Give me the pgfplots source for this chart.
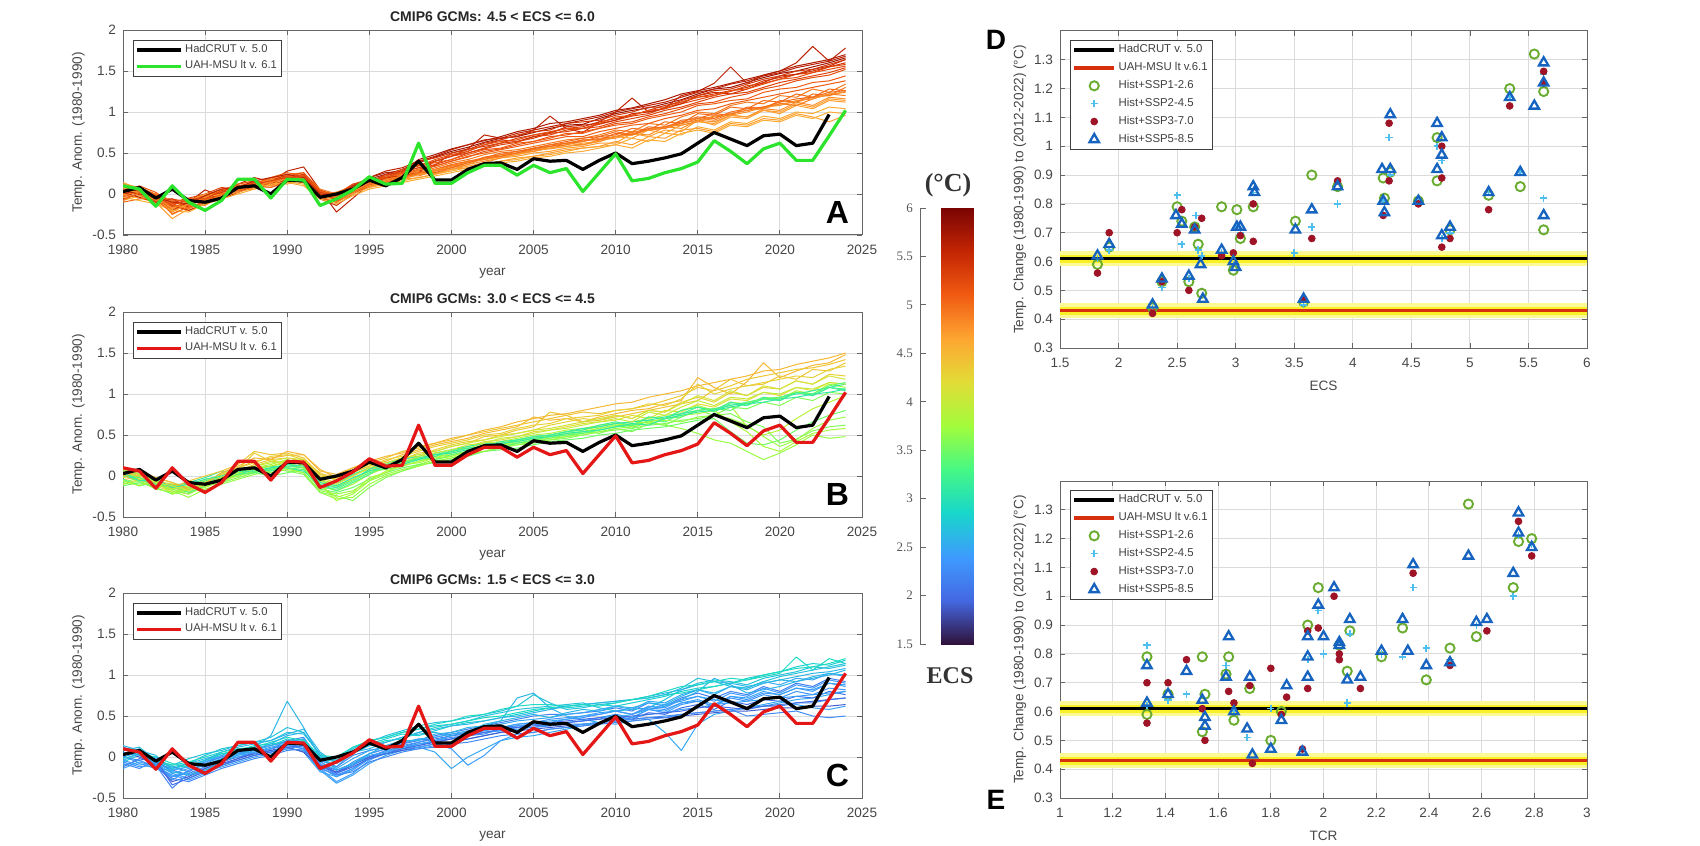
\documentclass[border=0pt]{standalone}
\usepackage{fontspec}
\setmainfont{Liberation Sans}
\newfontfamily\tnr{Liberation Serif}
\usepackage{pgfplots}
\usepackage{pgfplotstable}
\pgfplotsset{compat=1.18}

% turbo-like colour scale for ECS (1.5 ... 6 C)
\pgfplotsset{
  colormap={turbo}{rgb255=(48,18,59) rgb255=(68,104,226) rgb255=(62,155,254)
    rgb255=(24,214,203) rgb255=(70,248,132) rgb255=(162,252,60) rgb255=(225,221,55)
    rgb255=(254,166,50) rgb255=(240,91,18) rgb255=(196,37,3) rgb255=(122,4,3)},
}

\definecolor{obsgreen}{RGB}{45,228,45}
\definecolor{obsred}{RGB}{228,22,22}
\definecolor{sspA}{RGB}{105,172,48}
\definecolor{sspB}{RGB}{77,190,238}
\definecolor{sspC}{RGB}{158,20,38}
\definecolor{sspD}{RGB}{22,100,192}
\definecolor{bandlight}{RGB}{252,250,150}
\definecolor{bandyel}{RGB}{250,240,40}
\definecolor{uahline}{RGB}{214,48,14}

\pgfplotsset{
  matax/.style={
    scale only axis,
    axis line style={black!60, line width=0.5pt},
    every tick/.style={black!60, line width=0.4pt},
    tick align=inside,
    major tick length=2.5pt,
    grid=major,
    major grid style={black!14, line width=0.45pt},
    tick label style={font=\fontsize{6.8}{7.5}\selectfont, text=black!72},
    xticklabel style={yshift=-1.5pt},
    label style={font=\fontsize{6.8}{7.5}\selectfont, text=black!72},
    ylabel shift=-3pt,
    title style={font=\bfseries\fontsize{7}{8}\selectfont, text=black!85, yshift=-5.5pt},
    /pgf/number format/assume math mode=true,
    /pgf/number format/1000 sep={},
    legend cell align=left,
  },
  tsax/.style={
    matax, width=369.5pt, height=102.5pt,
    xmin=1980, xmax=2025, ymin=-0.5, ymax=2,
    xtick={1980,1985,...,2025}, ytick={-0.5,0,...,2},
    xlabel={year}, ylabel={Temp. Anom. (1980-1990)},
    colormap name=turbo,
    legend style={at={(0.0135,0.952)}, anchor=north west, draw=black!75,
      fill=white, font=\fontsize{5.6}{6.4}\selectfont, text=black!75,
      inner xsep=1pt, inner ysep=0.8pt, row sep=0pt, nodes={inner sep=1.3pt}},
    legend image code/.code={\draw[##1] (0pt,0pt) -- (22pt,0pt);},
  },
  scax/.style={
    matax, width=263.5pt, height=158.5pt,
    ymin=0.3, ymax=1.4, ytick={0.3,0.4,0.5,0.6,0.7,0.8,0.9,1,1.1,1.2,1.3},
    ylabel={Temp. Change (1980-1990) to (2012-2022) (°C)},
    legend style={at={(0.019,0.972)}, anchor=north west, draw=black!75,
      fill=white, font=\fontsize{5.7}{6.5}\selectfont, text=black!75,
      inner xsep=1pt, inner ysep=0.8pt, row sep=0.7pt, nodes={inner sep=1.3pt}},
    legend image code/.code={\draw[mark repeat=2, mark phase=2, ##1]
      plot coordinates {(0pt,0pt) (10pt,0pt) (20pt,0pt)};},
  },
  modelrun/.style={forget plot, line width=0.5pt, line join=round},
  obsline/.style={line width=1.6pt, line join=round},
  bandwide/.style={forget plot, bandlight, line width=7.6pt, line cap=butt},
  bandnarrow/.style={forget plot, bandyel, line width=4pt, line cap=butt},
  mkA/.style={only marks, mark=o, mark size=2.3pt, sspA, mark options={line width=0.95pt}},
  mkB/.style={only marks, mark=+, mark size=1.8pt, sspB, mark options={line width=0.8pt}},
  mkC/.style={only marks, mark=*, mark size=1.7pt, sspC, mark options={draw=sspC, fill=sspC}},
  mkD/.style={only marks, mark=triangle, mark size=2.7pt, sspD, mark options={line width=1.15pt}},
}

% observations (anomalies w.r.t. 1980-1990)
\pgfplotstableread{
year had uah
1980 0.03 0.10
1981 0.08 0.06
1982 -0.05 -0.15
1983 0.06 0.10
1984 -0.08 -0.10
1985 -0.10 -0.20
1986 -0.05 -0.08
1987 0.08 0.18
1988 0.10 0.18
1989 0.00 -0.05
1990 0.17 0.18
1991 0.16 0.17
1992 -0.04 -0.14
1993 0.00 -0.06
1994 0.06 0.05
1995 0.17 0.21
1996 0.10 0.12
1997 0.20 0.13
1998 0.40 0.62
1999 0.17 0.13
2000 0.17 0.13
2001 0.30 0.26
2002 0.37 0.35
2003 0.38 0.35
2004 0.30 0.23
2005 0.43 0.35
2006 0.40 0.26
2007 0.41 0.31
2008 0.30 0.03
2009 0.41 0.26
2010 0.50 0.49
2011 0.37 0.16
2012 0.40 0.19
2013 0.44 0.26
2014 0.49 0.31
2015 0.62 0.39
2016 0.75 0.65
2017 0.67 0.52
2018 0.59 0.37
2019 0.71 0.55
2020 0.73 0.62
2021 0.59 0.41
2022 0.62 0.41
2023 0.97 0.71
2024 nan 1.02
}\obs

% model runs, one run per row, 1980 ... 2024
\pgfplotstableread[header=false]{
0.05 0.02 -0.05 -0.12 -0.08  -0.02 0.04 0.10 0.12 0.18  0.22 0.20 -0.02 -0.05 0.10  0.18 0.24 0.30 0.38 0.45  0.52 0.57 0.63 0.68 0.70  0.75 0.80 0.84 0.85 0.92  0.98 1.02 1.05 1.10 1.15  1.22 1.28 1.30 1.36 1.42  1.47 1.50 1.55 1.60 1.66
0.10 -0.02 -0.08 -0.20 -0.10  0.05 -0.03 0.12 0.20 0.15  0.28 0.33 0.05 -0.22 -0.05  0.12 0.20 0.18 0.30 0.35  0.50 0.55 0.72 0.68 0.70  0.78 0.95 0.80 0.75 0.88  1.00 1.17 1.00 1.05 1.20  1.25 1.35 1.55 1.35 1.45  1.50 1.60 1.80 1.62 1.78
-0.02 0.05 0.00 -0.15 -0.12  -0.05 0.02 0.06 0.15 0.14  0.20 0.15 0.00 0.02 0.08  0.15 0.22 0.28 0.35 0.40  0.46 0.55 0.58 0.62 0.68  0.72 0.75 0.80 0.82 0.88  0.92 0.96 1.02 1.08 1.12  1.18 1.22 1.26 1.30 1.38  1.42 1.46 1.50 1.55 1.60
0.08 0.00 -0.04 -0.10 -0.05  0.00 0.08 0.05 0.12 0.20  0.18 0.22 0.05 -0.02 0.05  0.12 0.18 0.25 0.30 0.36  0.42 0.50 0.55 0.60 0.63  0.70 0.72 0.78 0.80 0.85  0.90 0.95 0.98 1.05 1.10  1.15 1.20 1.25 1.32 1.35  1.40 1.46 1.48 1.55 1.58
0.00 0.06 -0.02 -0.08 -0.14  -0.06 0.00 0.08 0.10 0.16  0.24 0.18 -0.05 -0.10 0.08  0.20 0.26 0.28 0.42 0.48  0.55 0.60 0.65 0.70 0.76  0.80 0.86 0.88 0.92 0.96  1.02 1.05 1.10 1.15 1.22  1.26 1.30 1.35 1.40 1.45  1.50 1.56 1.60 1.64 1.70
0.04 0.02 -0.06 -0.06 -0.10  -0.04 0.04 0.10 0.08 0.15  0.20 0.24 0.02 0.00 0.12  0.15 0.20 0.24 0.28 0.34  0.40 0.45 0.52 0.55 0.60  0.64 0.70 0.72 0.76 0.80  0.86 0.88 0.94 0.98 1.04  1.10 1.12 1.18 1.22 1.28  1.32 1.38 1.42 1.45 1.52
-0.05 0.00 -0.08 -0.18 -0.12  -0.08 0.00 0.05 0.08 0.12  0.16 0.20 0.02 -0.04 0.05  0.12 0.15 0.20 0.25 0.30  0.35 0.38 0.45 0.48 0.52  0.55 0.60 0.62 0.64 0.70  0.76 0.72 0.82 0.80 0.90  0.92 0.98 0.96 1.06 1.04  1.14 1.12 1.22 1.20 1.30
0.10 0.04 0.00 -0.25 -0.15  -0.05 0.05 0.08 0.14 0.10  0.18 0.15 -0.02 0.02 0.10  0.14 0.18 0.22 0.22 0.28  0.32 0.40 0.42 0.46 0.50  0.52 0.56 0.60 0.66 0.66  0.70 0.75 0.78 0.82 0.86  0.90 0.95 0.98 1.02 1.06  1.10 1.12 1.18 1.20 1.25
0.00 -0.05 -0.10 -0.30 -0.18  -0.10 -0.02 0.02 0.10 0.15  0.12 0.18 0.00 -0.08 0.02  0.10 0.14 0.18 0.24 0.26  0.30 0.34 0.38 0.44 0.46  0.50 0.52 0.56 0.58 0.62  0.62 0.74 0.70 0.78 0.76  0.90 0.84 0.94 0.92 1.02  0.98 1.08 1.04 1.14 1.12
0.06 0.02 -0.04 -0.12 -0.20  -0.12 -0.04 0.04 0.06 0.12  0.20 0.14 -0.04 -0.06 0.04  0.08 0.15 0.22 0.28 0.25  0.30 0.36 0.40 0.44 0.48  0.54 0.55 0.58 0.60 0.66  0.68 0.74 0.72 0.82 0.80  0.90 0.88 0.96 0.94 1.04  1.02 1.12 1.08 1.18 1.16
-0.08 -0.02 -0.12 -0.16 -0.10  -0.02 0.02 0.06 0.12 0.18  0.15 0.12 -0.06 -0.02 0.06  0.10 0.12 0.16 0.20 0.24  0.28 0.32 0.36 0.40 0.42  0.46 0.48 0.52 0.56 0.58  0.60 0.68 0.64 0.74 0.72  0.82 0.78 0.88 0.86 0.95  0.92 1.00 0.98 1.06 1.04
0.12 0.08 0.00 -0.08 -0.16  -0.10 0.00 0.10 0.14 0.18  0.24 0.26 0.06 0.00 0.10  0.16 0.20 0.24 0.26 0.32  0.38 0.42 0.48 0.52 0.54  0.58 0.62 0.66 0.68 0.72  0.78 0.76 0.86 0.84 0.94  1.00 0.98 1.08 1.12 1.10  1.20 1.18 1.28 1.24 1.34
-0.04 0.04 -0.02 -0.10 -0.06  -0.08 0.06 0.04 0.08 0.16  0.22 0.18 0.00 -0.04 0.06  0.14 0.18 0.26 0.32 0.34  0.40 0.46 0.50 0.54 0.58  0.62 0.66 0.70 0.70 0.76  0.80 0.84 0.86 0.92 0.96  1.02 1.04 1.10 1.14 1.18  1.22 1.26 1.30 1.34 1.38
0.02 -0.04 -0.10 -0.14 -0.20  -0.12 -0.06 0.02 0.10 0.14  0.20 0.16 -0.06 -0.14 0.00  0.10 0.20 0.22 0.26 0.40  0.46 0.52 0.60 0.66 0.64  0.70 0.74 0.82 0.84 0.86  0.90 0.98 1.00 1.04 1.10  1.20 1.24 1.22 1.28 1.36  1.44 1.46 1.52 1.56 1.64
0.14 0.06 -0.02 -0.18 -0.08  0.00 0.04 0.12 0.16 0.14  0.20 0.22 0.02 -0.02 0.08  0.14 0.16 0.20 0.26 0.28  0.34 0.38 0.42 0.45 0.48  0.52 0.56 0.58 0.62 0.64  0.70 0.68 0.78 0.74 0.84  0.88 0.86 0.96 0.94 1.02  1.00 1.10 1.06 1.16 1.14
-0.10 -0.06 -0.04 -0.20 -0.14  -0.06 -0.02 0.06 0.10 0.08  0.14 0.18 0.00 -0.06 0.02  0.10 0.16 0.22 0.24 0.30  0.36 0.40 0.44 0.50 0.52  0.56 0.60 0.64 0.68 0.70  0.72 0.80 0.78 0.88 0.86  0.98 0.96 1.06 1.04 1.14  1.12 1.22 1.18 1.28 1.26
0.02 0.08 -0.02 -0.16 -0.10  -0.04 0.02 0.12 0.16 0.12  0.22 0.26 0.04 -0.08 0.06  0.16 0.22 0.30 0.34 0.42  0.48 0.52 0.60 0.64 0.66  0.72 0.76 0.80 0.80 0.86  0.94 0.96 1.02 1.04 1.12  1.18 1.20 1.26 1.28 1.34  1.40 1.42 1.48 1.52 1.56
-0.06 0.00 -0.10 -0.06 -0.16  -0.10 0.02 0.06 0.14 0.10  0.18 0.24 0.00 -0.06 0.10  0.14 0.24 0.26 0.40 0.44  0.50 0.54 0.62 0.66 0.72  0.76 0.78 0.86 0.88 0.90  0.96 1.00 1.06 1.06 1.14  1.20 1.26 1.28 1.34 1.40  1.44 1.50 1.52 1.58 1.64
0.08 0.00 -0.06 -0.22 -0.12  -0.04 0.00 0.08 0.12 0.10  0.16 0.18 -0.04 -0.10 0.00  0.08 0.12 0.18 0.20 0.24  0.30 0.32 0.36 0.40 0.44  0.46 0.50 0.54 0.56 0.58  0.64 0.60 0.70 0.68 0.78  0.80 0.76 0.86 0.84 0.92  0.90 0.98 0.94 0.88 0.96
-0.02 0.04 -0.06 -0.14 -0.18  -0.08 -0.04 0.06 0.10 0.14  0.20 0.16 0.00 -0.02 0.06  0.12 0.18 0.22 0.30 0.28  0.34 0.40 0.42 0.48 0.50  0.54 0.58 0.60 0.64 0.68  0.70 0.76 0.78 0.80 0.86  0.92 0.90 0.98 1.02 1.04  1.10 1.08 1.16 1.22 1.20
0.06 -0.02 -0.04 -0.10 -0.12  -0.14 -0.02 0.02 0.08 0.16  0.18 0.20 -0.02 -0.04 0.04  0.10 0.16 0.18 0.24 0.30  0.32 0.36 0.44 0.46 0.50  0.52 0.58 0.62 0.60 0.64  0.70 0.72 0.78 0.82 0.84  0.88 0.94 0.96 1.00 1.06  1.08 1.14 1.16 1.22 1.24
0.00 0.10 0.02 -0.12 -0.08  -0.02 0.06 0.10 0.12 0.20  0.26 0.22 0.04 -0.02 0.08  0.16 0.20 0.26 0.36 0.38  0.42 0.48 0.54 0.56 0.62  0.64 0.68 0.74 0.74 0.80  0.84 0.86 0.92 0.96 1.00  1.08 1.10 1.14 1.16 1.24  1.28 1.30 1.36 1.38 1.44
0.04 0.00 -0.04 -0.10 -0.12  -0.02 0.06 0.08 0.16 0.20  0.24 0.20 0.00 -0.02 0.10  0.20 0.28 0.32 0.40 0.46  0.54 0.60 0.66 0.68 0.74  0.78 0.82 0.86 0.90 0.94  1.00 1.04 1.08 1.12 1.18  1.24 1.28 1.34 1.38 1.44  1.48 1.54 1.58 1.62 1.68
-0.04 -0.08 -0.12 -0.20 -0.22  -0.12 -0.06 0.00 0.06 0.12  0.14 0.10 -0.06 -0.12 -0.02  0.06 0.10 0.14 0.18 0.22  0.26 0.30 0.34 0.38 0.40  0.44 0.46 0.50 0.52 0.56  0.60 0.56 0.66 0.64 0.74  0.78 0.74 0.84 0.82 0.90  0.88 0.96 0.92 1.00 0.98
0.10 0.04 -0.02 -0.14 -0.06  -0.06 0.04 0.08 0.12 0.16  0.20 0.22 0.02 -0.02 0.12  0.18 0.20 0.28 0.32 0.40  0.46 0.50 0.56 0.62 0.64  0.68 0.74 0.76 0.80 0.82  0.88 0.92 0.96 1.02 1.06  1.12 1.18 1.22 1.24 1.30  1.36 1.40 1.44 1.48 1.54
-0.08 0.02 -0.06 -0.24 -0.16  -0.10 0.00 0.04 0.10 0.08  0.16 0.14 -0.04 -0.10 0.02  0.12 0.14 0.20 0.26 0.26  0.32 0.38 0.44 0.46 0.50  0.56 0.58 0.62 0.66 0.66  0.74 0.72 0.80 0.82 0.88  0.94 0.92 1.00 1.04 1.06  1.12 1.16 1.18 1.24 1.26
}\rawA
\pgfplotstabletranspose\runsA\rawA

\pgfplotstableread[header=false]{
0.00 -0.05 -0.10 -0.18 -0.22  -0.12 0.00 0.10 0.18 0.22  0.25 0.26 0.08 -0.02 0.05  0.12 0.18 0.26 0.32 0.38  0.42 0.46 0.52 0.56 0.60  0.72 0.68 0.70 0.66 0.72  0.76 0.80 0.82 0.88 0.92  1.20 1.08 1.00 1.15 1.38  1.20 1.28 1.35 1.38 1.48
-0.05 0.00 -0.06 -0.15 -0.18  -0.10 -0.04 0.06 0.14 0.20  0.22 0.18 0.04 -0.06 0.00  0.10 0.14 0.20 0.28 0.30  0.36 0.40 0.48 0.50 0.56  0.60 0.78 0.74 0.66 0.68  0.72 0.76 0.80 0.84 0.88  0.92 1.05 1.18 1.10 1.12  1.22 1.18 1.30 1.28 1.38
0.04 -0.02 -0.08 -0.12 -0.10  -0.06 0.02 0.08 0.28 0.18  0.16 0.20 0.00 -0.04 0.06  0.14 0.16 0.22 0.24 0.32  0.38 0.42 0.44 0.50 0.52  0.56 0.62 0.66 0.70 0.68  0.74 0.70 0.80 0.78 0.90  0.96 0.90 1.02 0.98 1.08  1.06 1.16 1.12 1.24 1.22
-0.10 -0.04 -0.12 -0.20 -0.16  -0.06 0.00 0.04 0.10 0.12  0.18 0.14 -0.02 -0.08 0.02  0.08 0.12 0.18 0.22 0.26  0.30 0.36 0.42 0.44 0.48  0.54 0.56 0.60 0.64 0.66  0.68 0.74 0.70 0.80 0.78  0.88 0.84 0.94 0.92 1.02  0.98 1.08 1.04 1.14 1.12
0.02 -0.06 -0.14 -0.10 -0.20  -0.14 -0.06 0.00 0.06 0.08  0.12 0.10 -0.12 -0.18 -0.10  0.02 0.10 0.14 0.22 0.26  0.30 0.34 0.40 0.42 0.46  0.50 0.52 0.56 0.58 0.62  0.64 0.66 0.70 0.74 0.76  0.80 0.82 0.86 0.60 0.50  0.56 0.70 0.82 0.90 0.98
-0.06 -0.10 -0.08 -0.18 -0.26  -0.16 -0.10 -0.04 0.02 0.06  0.10 0.04 -0.20 -0.28 -0.26  -0.10 0.00 0.06 0.14 0.20  0.24 0.30 0.34 0.38 0.40  0.42 0.46 0.48 0.52 0.56  0.60 0.62 0.66 0.62 0.58  0.52 0.44 0.40 0.30 0.20  0.28 0.38 0.50 0.46 0.48
0.06 0.00 -0.04 -0.14 -0.12  -0.08 0.04 0.08 0.06 0.10  0.14 0.16 -0.08 -0.14 -0.04  0.06 0.08 0.12 0.18 0.24  0.26 0.30 0.36 0.34 0.40  0.44 0.46 0.50 0.54 0.52  0.58 0.54 0.64 0.62 0.72  0.80 0.74 0.84 0.82 0.90  0.86 0.96 0.92 1.02 1.00
-0.12 -0.08 -0.14 -0.22 -0.18  -0.10 -0.04 0.02 0.04 0.00  0.04 0.08 -0.16 -0.20 -0.14  -0.04 0.04 0.10 0.14 0.16  0.20 0.24 0.30 0.32 0.34  0.38 0.42 0.44 0.46 0.50  0.52 0.56 0.58 0.60 0.64  0.68 0.70 0.54 0.40 0.38  0.44 0.56 0.66 0.74 0.80
0.00 0.04 -0.02 -0.08 -0.14  -0.18 -0.08 0.02 0.10 0.14  0.20 0.12 -0.10 -0.30 -0.22  -0.06 0.06 0.12 0.18 0.22  0.28 0.32 0.38 0.40 0.44  0.46 0.50 0.54 0.56 0.60  0.64 0.60 0.72 0.70 0.80  0.86 0.80 0.90 0.88 0.96  0.94 1.04 1.00 1.12 1.08
-0.04 -0.12 -0.08 -0.16 -0.14  -0.06 -0.02 0.06 0.04 0.08  0.12 0.10 -0.10 -0.18 -0.08  0.02 0.14 0.18 0.20 0.24  0.30 0.34 0.36 0.40 0.42  0.46 0.48 0.52 0.54 0.58  0.62 0.58 0.68 0.66 0.76  0.84 0.78 0.88 0.86 0.94  0.92 1.02 0.98 1.08 1.06
0.08 0.02 -0.06 -0.12 -0.08  -0.02 0.06 0.02 0.08 0.12  0.10 0.06 -0.12 -0.14 -0.04  0.08 0.16 0.20 0.24 0.28  0.32 0.36 0.40 0.38 0.44  0.48 0.50 0.54 0.58 0.60  0.64 0.66 0.68 0.72 0.76  0.80 0.82 0.86 0.90 0.94  0.96 1.00 1.04 1.08 1.12
0.04 0.00 -0.04 -0.14 -0.06  0.00 0.06 0.14 0.30 0.26  0.28 0.22 0.02 0.00 0.10  0.16 0.22 0.30 0.34 0.40  0.44 0.50 0.54 0.58 0.62  0.66 0.70 0.74 0.78 0.76  0.80 0.82 0.86 0.92 0.98  1.08 1.04 1.10 1.18 1.22  1.26 1.30 1.32 1.36 1.42
-0.08 -0.02 -0.10 -0.16 -0.22  -0.12 -0.08 -0.02 0.04 0.10  0.06 0.02 -0.20 -0.24 -0.30  -0.14 -0.02 0.06 0.12 0.18  0.22 0.26 0.30 0.34 0.38  0.42 0.44 0.46 0.50 0.54  0.56 0.58 0.62 0.64 0.68  0.70 0.74 0.76 0.66 0.60  0.40 0.45 0.55 0.60 0.62
0.00 -0.04 -0.12 -0.10 -0.16  -0.08 -0.02 0.04 0.10 0.06  0.14 0.10 -0.06 -0.10 0.02  0.10 0.12 0.16 0.22 0.26  0.30 0.34 0.36 0.42 0.44  0.48 0.50 0.54 0.56 0.62  0.66 0.62 0.72 0.70 0.80  0.84 0.80 0.90 0.86 0.96  0.92 1.02 0.98 1.08 1.04
-0.02 0.02 -0.06 -0.10 -0.14  -0.08 0.02 0.10 0.16 0.24  0.26 0.20 0.02 -0.04 0.04  0.12 0.20 0.24 0.30 0.36  0.40 0.44 0.50 0.52 0.58  0.62 0.64 0.70 0.72 0.74  0.80 0.82 0.88 0.86 0.94  1.12 1.00 1.06 1.10 1.14  1.18 1.22 1.20 1.30 1.34
0.06 -0.04 -0.10 -0.16 -0.12  -0.04 0.00 0.06 0.12 0.16  0.18 0.16 -0.06 -0.12 -0.04  0.06 0.12 0.16 0.24 0.28  0.32 0.38 0.40 0.46 0.48  0.52 0.56 0.58 0.62 0.66  0.70 0.66 0.78 0.74 0.84  0.92 0.86 0.96 0.94 1.02  1.00 1.08 1.06 1.14 1.12
-0.10 -0.06 -0.16 -0.20 -0.14  -0.10 -0.02 0.00 0.06 0.04  0.08 0.04 -0.18 -0.22 -0.18  -0.06 0.02 0.08 0.12 0.18  0.22 0.28 0.30 0.36 0.38  0.40 0.44 0.48 0.50 0.54  0.58 0.60 0.64 0.68 0.66  0.72 0.74 0.70 0.62 0.48  0.36 0.44 0.58 0.68 0.72
0.02 -0.02 -0.10 -0.12 -0.20  -0.12 -0.04 0.02 0.04 0.10  0.10 0.08 -0.14 -0.16 -0.06  0.04 0.10 0.16 0.22 0.20  0.26 0.30 0.34 0.36 0.40  0.44 0.48 0.50 0.52 0.56  0.60 0.62 0.66 0.70 0.72  0.80 0.82 0.80 0.90 0.94  0.96 1.02 1.00 1.10 1.14
0.00 0.06 -0.02 -0.08 -0.16  -0.10 0.04 0.12 0.22 0.20  0.30 0.26 0.06 0.02 0.10  0.18 0.24 0.28 0.36 0.40  0.46 0.50 0.56 0.60 0.66  0.70 0.74 0.76 0.80 0.84  0.88 0.90 0.96 1.00 1.04  1.10 1.14 1.18 1.22 1.28  1.30 1.36 1.40 1.44 1.50
-0.06 -0.12 -0.06 -0.22 -0.16  -0.12 -0.06 0.04 0.08 0.12  0.16 0.10 -0.12 -0.26 -0.20  -0.02 0.04 0.14 0.16 0.22  0.24 0.30 0.34 0.38 0.42  0.46 0.48 0.52 0.54 0.58  0.62 0.64 0.66 0.70 0.74  0.76 0.80 0.66 0.54 0.36  0.30 0.42 0.52 0.56 0.58
0.04 -0.06 -0.04 -0.14 -0.10  -0.04 0.00 0.06 0.06 0.10  0.14 0.12 -0.08 -0.12 -0.02  0.06 0.12 0.14 0.20 0.26  0.28 0.32 0.36 0.40 0.42  0.46 0.48 0.52 0.54 0.56  0.60 0.64 0.62 0.70 0.74  0.78 0.80 0.84 0.88 0.90  0.94 0.96 1.00 1.02 1.06
0.08 0.02 -0.08 -0.12 -0.18  -0.10 -0.02 0.08 0.12 0.18  0.22 0.20 -0.04 -0.10 0.00  0.10 0.16 0.22 0.26 0.30  0.36 0.40 0.44 0.48 0.52  0.56 0.58 0.62 0.66 0.70  0.74 0.70 0.80 0.78 0.88  0.98 0.92 1.04 0.98 1.10  1.06 1.16 1.12 1.22 1.18
}\rawB
\pgfplotstabletranspose\runsB\rawB

\pgfplotstableread[header=false]{
0.04 0.10 -0.10 -0.38 -0.20  -0.12 -0.04 0.04 0.10 0.14  0.20 0.24 -0.05 -0.20 -0.10  0.04 0.10 0.16 0.20 0.26  0.30 0.34 0.38 0.42 0.46  0.50 0.52 0.52 0.54 0.56  0.60 0.56 0.66 0.62 0.72  0.78 0.72 0.80 0.76 0.86  0.80 0.90 0.86 0.96 0.92
-0.10 -0.04 0.00 -0.14 -0.08  -0.02 0.04 0.06 0.12 0.26  0.68 0.36 0.00 -0.12 0.06  0.10 0.18 0.24 0.28 0.30  0.26 0.30 0.40 0.44 0.72  0.78 0.60 0.50 0.46 0.42  0.48 0.52 0.58 0.62 0.70  0.80 0.96 0.88 0.78 0.82  0.86 0.92 0.96 1.00 1.06
0.12 0.06 -0.02 -0.20 -0.26  -0.16 -0.10 -0.02 0.06 0.10  0.16 0.12 -0.14 -0.30 -0.20  -0.04 0.06 0.10 0.16 0.18  0.22 0.28 0.30 0.32 0.36  0.40 0.38 0.42 0.44 0.48  0.52 0.48 0.58 0.54 0.64  0.68 0.62 0.74 0.70 0.78  0.76 0.84 0.80 0.90 0.86
-0.06 0.02 -0.08 -0.14 -0.10  -0.04 0.02 0.10 0.08 0.14  0.22 0.18 -0.02 -0.06 0.08  0.16 0.22 0.28 0.26 0.32  0.38 0.42 0.44 0.48 0.52  0.56 0.60 0.60 0.62 0.64  0.62 0.66 0.70 0.74 0.80  0.84 0.86 0.90 0.96 1.00  1.04 1.10 1.14 1.12 1.18
0.02 -0.08 -0.14 -0.24 -0.18  -0.08 0.00 0.04 0.02 0.08  0.12 0.06 -0.18 -0.24 -0.14  0.00 0.04 0.08 0.12 0.06  -0.14 0.00 0.10 0.20 0.24  0.26 0.30 0.34 0.38 0.42  0.40 0.44 0.46 0.30 0.08  0.40 0.52 0.56 0.60 0.62  0.66 0.70 0.72 0.76 0.80
-0.12 -0.02 -0.06 -0.16 -0.22  -0.14 -0.06 0.00 0.04 0.10  0.14 0.10 -0.10 -0.16 -0.08  0.00 0.08 0.12 0.18 0.22  0.26 0.28 0.32 0.36 0.38  0.40 0.42 0.44 0.46 0.48  0.50 0.46 0.54 0.52 0.60  0.64 0.58 0.68 0.64 0.70  0.68 0.74 0.72 0.80 0.76
0.08 0.12 -0.04 -0.10 -0.02  0.04 0.08 0.14 0.18 0.20  0.30 0.28 0.04 -0.06 0.10  0.20 0.24 0.30 0.34 0.38  0.40 0.44 0.50 0.54 0.58  0.60 0.62 0.64 0.66 0.60  0.56 0.58 0.60 0.70 0.82  0.90 0.94 0.92 0.88 0.96  1.00 1.04 1.10 1.08 1.12
-0.04 -0.10 -0.06 -0.28 -0.16  -0.10 -0.02 0.02 0.08 0.06  0.10 0.14 -0.08 -0.20 -0.06  0.04 0.10 0.14 0.18 0.24  0.28 0.30 0.34 0.36 0.40  0.42 0.46 0.48 0.50 0.52  0.56 0.52 0.60 0.58 0.66  0.68 0.62 0.72 0.68 0.76  0.72 0.80 0.76 0.84 0.82
0.10 0.04 0.00 -0.08 -0.12  -0.04 0.04 0.08 0.14 0.16  0.18 0.22 0.00 -0.04 0.08  0.14 0.20 0.22 0.30 0.36  0.40 0.44 0.48 0.50 0.54  0.58 0.60 0.62 0.64 0.66  0.68 0.70 0.72 0.76 0.78  0.82 0.86 0.90 0.94 0.98  1.02 1.22 1.06 1.20 1.14
0.00 0.06 -0.12 -0.18 -0.22  -0.18 -0.12 -0.06 0.00 0.04  0.10 0.08 -0.16 -0.32 -0.22  -0.08 0.02 0.08 0.10 0.14  0.18 0.22 0.26 0.30 0.34  0.36 0.40 0.42 0.44 0.46  0.52 0.48 0.58 0.56 0.66  0.70 0.64 0.74 0.72 0.80  0.76 0.84 0.82 0.90 0.88
0.06 0.00 -0.10 -0.30 -0.24  -0.14 -0.08 -0.02 0.04 0.08  0.12 0.06 -0.12 -0.18 -0.10  0.00 0.04 0.08 0.12 0.16  0.18 0.22 0.26 0.30 0.32  0.34 0.36 0.38 0.40 0.42  0.44 0.46 0.48 0.48 0.50  0.52 0.54 0.56 0.56 0.58  0.60 0.60 0.62 0.62 0.64
-0.08 -0.14 -0.04 -0.12 -0.18  -0.06 0.00 0.06 0.04 0.10  0.16 0.20 -0.04 -0.12 0.02  0.08 0.12 0.16 0.22 0.20  0.24 0.26 0.28 0.34 0.36  0.36 0.38 0.40 0.40 0.42  0.44 0.46 0.48 0.50 0.52  0.54 0.56 0.58 0.50 0.52  0.54 0.56 0.50 0.48 0.50
0.14 0.08 0.02 -0.16 -0.12  -0.04 0.06 0.12 0.16 0.20  0.28 0.34 0.06 -0.08 0.04  0.14 0.18 0.24 0.30 0.34  0.38 0.40 0.44 0.48 0.50  0.54 0.58 0.62 0.64 0.66  0.68 0.70 0.74 0.78 0.82  0.88 0.92 0.90 0.86 0.90  0.94 0.98 1.02 1.04 1.08
-0.14 -0.06 -0.12 -0.22 -0.28  -0.20 -0.10 -0.04 0.02 0.06  0.14 0.16 -0.12 -0.24 -0.16  -0.02 0.04 0.10 0.12 0.16  0.10 -0.10 0.02 0.20 0.28  0.30 0.34 0.36 0.40 0.42  0.46 0.48 0.52 0.54 0.58  0.60 0.64 0.66 0.68 0.70  0.72 0.74 0.76 0.78 0.80
0.06 0.02 -0.08 -0.20 -0.14  -0.10 -0.02 0.06 0.08 0.14  0.18 0.22 -0.02 -0.14 -0.02  0.08 0.12 0.18 0.22 0.24  0.28 0.32 0.36 0.40 0.44  0.46 0.48 0.52 0.54 0.58  0.62 0.58 0.68 0.66 0.76  0.82 0.76 0.86 0.84 0.92  0.88 0.96 0.94 1.02 0.98
-0.06 -0.12 -0.10 -0.24 -0.20  -0.12 -0.04 0.00 0.06 0.12  0.16 0.10 -0.10 -0.22 -0.14  -0.02 0.08 0.12 0.14 0.20  0.22 0.26 0.30 0.32 0.38  0.40 0.42 0.46 0.48 0.52  0.56 0.52 0.62 0.60 0.70  0.74 0.68 0.78 0.74 0.84  0.78 0.88 0.84 0.94 0.90
0.02 0.08 -0.06 -0.12 -0.08  0.02 0.10 0.14 0.18 0.24  0.36 0.30 0.02 -0.04 0.12  0.18 0.26 0.32 0.38 0.42  0.44 0.48 0.52 0.56 0.62  0.76 0.66 0.58 0.60 0.64  0.66 0.70 0.72 0.76 0.84  0.96 0.92 0.86 0.84 0.92  0.98 1.02 1.06 1.10 1.14
0.00 -0.04 -0.12 -0.26 -0.30  -0.22 -0.14 -0.08 -0.02 0.02  0.08 0.10 -0.14 -0.22 -0.18  -0.06 0.00 0.06 0.10 0.12  0.16 0.18 0.22 0.26 0.28  0.30 0.34 0.36 0.38 0.40  0.42 0.44 0.46 0.48 0.52  0.54 0.56 0.58 0.60 0.62  0.62 0.66 0.66 0.70 0.72
-0.02 0.04 -0.04 -0.10 -0.06  0.00 0.06 0.10 0.12 0.18  0.24 0.20 0.02 0.00 0.12  0.20 0.24 0.30 0.34 0.40  0.44 0.50 0.52 0.58 0.62  0.64 0.64 0.62 0.64 0.62  0.66 0.70 0.74 0.80 0.86  0.88 0.92 0.96 0.94 1.00  1.04 1.08 1.10 1.14 1.20
0.10 0.02 -0.06 -0.18 -0.22  -0.16 -0.06 0.02 0.10 0.16  0.26 0.30 0.02 -0.16 -0.08  0.04 0.14 0.20 0.20 0.28  0.30 0.36 0.38 0.44 0.48  0.52 0.48 0.54 0.58 0.56  0.62 0.60 0.66 0.64 0.74  0.82 0.78 0.86 0.82 0.90  0.94 0.92 0.98 1.02 1.00
-0.04 0.04 -0.08 -0.16 -0.12  -0.06 0.02 0.04 0.06 0.10  0.20 0.18 -0.06 -0.16 -0.10  0.02 0.06 0.12 0.16 0.20  0.26 0.30 0.32 0.36 0.40  0.42 0.44 0.46 0.50 0.54  0.56 0.60 0.58 0.64 0.68  0.74 0.70 0.66 0.60 0.64  0.68 0.64 0.60 0.58 0.62
0.04 0.08 -0.04 -0.34 -0.26  -0.18 -0.10 -0.04 0.02 0.06  0.12 0.14 -0.10 -0.20 -0.12  -0.02 0.04 0.10 0.14 0.18  0.22 0.26 0.30 0.34 0.36  0.38 0.40 0.42 0.44 0.46  0.48 0.50 0.52 0.54 0.56  0.60 0.62 0.60 0.58 0.62  0.64 0.66 0.68 0.70 0.72
}\rawC
\pgfplotstabletranspose\runsC\rawC

\begin{document}
\begin{tikzpicture}
\useasboundingbox (0pt,0pt) rectangle (850pt,-422.5pt);

% ---------------- A: 4.5 < ECS <= 6.0
\begin{axis}[tsax, at={(61.5pt,-117.5pt)}, anchor=south west,
  title={CMIP6 GCMs: 4.5 < ECS <= 6.0}]
\foreach \k/\v in {1/956,2/911,3/867,4/844,5/933,6/822,7/778,8/756,9/711,10/733,11/689,12/756,13/800,14/889,15/711,16/778,17/822,18/867,19/711,20/756,21/733,22/800,23/911,24/689,25/844,26/778}{
  \edef\temp{\noexpand\addplot[modelrun, color of colormap=\v] table[x expr=\noexpand\coordindex+1980, y index=\k] {\noexpand\runsA};}
  \temp
}
\addplot[obsline, black] table[x=year, y=had] {\obs};
\addlegendentry{HadCRUT v. 5.0}
\addplot[obsline, obsgreen] table[x=year, y=uah] {\obs};
\addlegendentry{UAH-MSU lt v. 6.1}
\node[anchor=south east, font=\bfseries\fontsize{16}{16}\selectfont] at (rel axis cs:0.992,0.02) {A};
\end{axis}

% ---------------- B: 3.0 < ECS <= 4.5
\begin{axis}[tsax, at={(61.5pt,-258.5pt)}, anchor=south west,
  title={CMIP6 GCMs: 3.0 < ECS <= 4.5}]
\foreach \k/\v in {1/667,2/644,3/622,4/600,5/533,6/489,7/467,8/444,9/511,10/400,11/356,12/644,13/467,14/378,15/622,16/556,17/489,18/422,19/667,20/511,21/356,22/578}{
  \edef\temp{\noexpand\addplot[modelrun, color of colormap=\v] table[x expr=\noexpand\coordindex+1980, y index=\k] {\noexpand\runsB};}
  \temp
}
\addplot[obsline, black] table[x=year, y=had] {\obs};
\addlegendentry{HadCRUT v. 5.0}
\addplot[obsline, obsred] table[x=year, y=uah] {\obs};
\addlegendentry{UAH-MSU lt v. 6.1}
\node[anchor=south east, font=\bfseries\fontsize{16}{16}\selectfont] at (rel axis cs:0.992,0.02) {B};
\end{axis}

% ---------------- C: 1.5 < ECS <= 3.0
\begin{axis}[tsax, at={(61.5pt,-399pt)}, anchor=south west,
  title={CMIP6 GCMs: 1.5 < ECS <= 3.0}]
\foreach \k/\v in {1/150,2/244,3/200,4/289,5/222,6/120,7/267,8/190,9/311,10/210,11/90,12/170,13/244,14/205,15/222,16/195,17/267,18/165,19/311,20/244,21/215,22/110}{
  \edef\temp{\noexpand\addplot[modelrun, color of colormap=\v] table[x expr=\noexpand\coordindex+1980, y index=\k] {\noexpand\runsC};}
  \temp
}
\addplot[obsline, black] table[x=year, y=had] {\obs};
\addlegendentry{HadCRUT v. 5.0}
\addplot[obsline, obsred] table[x=year, y=uah] {\obs};
\addlegendentry{UAH-MSU lt v. 6.1}
\node[anchor=south east, font=\bfseries\fontsize{16}{16}\selectfont] at (rel axis cs:0.992,0.02) {C};
\end{axis}

% ---------------- colour bar (ECS)
\begin{axis}[at={(460pt,-322pt)}, anchor=south west, scale only axis,
  width=26.5pt, height=218pt,
  xmin=0, xmax=1, ymin=1.5, ymax=6,
  axis x line=none, axis y line*=left,
  axis line style={black!60, line width=0.5pt},
  ytick={1.5,2,...,6}, tick align=inside, major tick length=3pt,
  every tick/.style={black!60, line width=0.5pt},
  yticklabel style={font=\tnr\fontsize{6.5}{7}\selectfont, text=black!65},
  /pgf/number format/assume math mode=true,
  colormap name=turbo, point meta min=1.5, point meta max=6]
\addplot[surf, shader=interp, mesh/rows=2, point meta=explicit]
  coordinates {(0.4,1.5) [1.5] (1,1.5) [1.5] (0.4,6) [6] (1,6) [6]};
\end{axis}
\node[font=\tnr\bfseries\fontsize{13}{13}\selectfont, text=black!80] at (474pt,-92.5pt) {(°C)};
\node[font=\tnr\bfseries\fontsize{12}{12}\selectfont, text=black!80] at (475pt,-338pt) {ECS};

% ---------------- D: change vs ECS
\begin{axis}[scax, at={(530pt,-174pt)}, anchor=south west,
  xmin=1.5, xmax=6, xtick={1.5,2,...,6}, xlabel={ECS}]
\addplot[bandwide] coordinates {(1.5,0.61) (6,0.61)};
\addplot[bandnarrow] coordinates {(1.5,0.61) (6,0.61)};
\addplot[black, line width=1.8pt, line cap=butt] coordinates {(1.5,0.61) (6,0.61)};
\addlegendentry{HadCRUT v. 5.0}
\addplot[bandwide] coordinates {(1.5,0.43) (6,0.43)};
\addplot[bandnarrow] coordinates {(1.5,0.43) (6,0.43)};
\addplot[uahline, line width=1.6pt, line cap=butt] coordinates {(1.5,0.43) (6,0.43)};
\addlegendentry{UAH-MSU lt v.6.1}
\addplot[mkA] coordinates {(1.82,0.59) (1.92,0.65) (2.29,0.44) (2.37,0.53) (2.50,0.79) (2.54,0.74) (2.60,0.53) (2.65,0.72) (2.68,0.66) (2.71,0.49) (2.88,0.79) (2.98,0.57) (3.01,0.78) (3.04,0.68) (3.15,0.79) (3.51,0.74) (3.58,0.46) (3.65,0.90) (3.87,0.86) (4.26,0.89) (4.27,0.82) (4.32,0.91) (4.56,0.81) (4.72,1.03) (4.72,0.88) (4.83,0.71) (5.16,0.83) (5.34,1.20) (5.43,0.86) (5.55,1.32) (5.63,1.19) (5.63,0.71)};
\addlegendentry{Hist+SSP1-2.6}
\addplot[mkB] coordinates {(1.82,0.61) (1.92,0.64) (2.29,0.44) (2.37,0.51) (2.50,0.83) (2.54,0.66) (2.60,0.54) (2.66,0.76) (2.68,0.64) (2.71,0.62) (2.88,0.63) (2.98,0.59) (3.01,0.72) (3.04,0.70) (3.15,0.84) (3.50,0.63) (3.58,0.45) (3.65,0.72) (3.87,0.80) (4.26,0.81) (4.31,1.03) (4.32,0.90) (4.56,0.81) (4.72,1.00) (4.76,0.95) (4.76,0.68) (4.83,0.70) (5.16,0.84) (5.34,1.17) (5.43,0.91) (5.63,1.25) (5.63,0.82)};
\addlegendentry{Hist+SSP2-4.5}
\addplot[mkC] coordinates {(1.82,0.56) (1.92,0.70) (2.29,0.42) (2.37,0.53) (2.50,0.70) (2.54,0.78) (2.60,0.50) (2.65,0.72) (2.71,0.75) (2.88,0.62) (2.98,0.63) (3.04,0.69) (3.15,0.80) (3.15,0.67) (3.58,0.47) (3.65,0.68) (3.87,0.88) (4.26,0.76) (4.31,1.08) (4.31,0.88) (4.56,0.80) (4.76,1.00) (4.76,0.89) (4.76,0.65) (4.83,0.68) (5.16,0.78) (5.34,1.14) (5.63,1.26) (5.63,1.22)};
\addlegendentry{Hist+SSP3-7.0}
\addplot[mkD] coordinates {(1.82,0.62) (1.92,0.66) (2.29,0.45) (2.37,0.54) (2.49,0.76) (2.54,0.73) (2.60,0.55) (2.65,0.71) (2.70,0.59) (2.72,0.47) (2.88,0.64) (2.98,0.60) (3.00,0.58) (3.01,0.72) (3.04,0.72) (3.15,0.86) (3.16,0.84) (3.51,0.71) (3.58,0.47) (3.65,0.78) (3.87,0.86) (4.25,0.92) (4.26,0.81) (4.27,0.77) (4.32,1.11) (4.32,0.92) (4.56,0.81) (4.72,1.08) (4.72,0.92) (4.76,1.03) (4.76,0.97) (4.76,0.69) (4.83,0.72) (5.16,0.84) (5.34,1.17) (5.43,0.91) (5.55,1.14) (5.63,1.29) (5.63,1.22) (5.63,0.76)};
\addlegendentry{Hist+SSP5-8.5}
\end{axis}

% ---------------- E: change vs TCR
\begin{axis}[scax, at={(530pt,-399pt)}, anchor=south west,
  xmin=1, xmax=3, xtick={1,1.2,1.4,1.6,1.8,2,2.2,2.4,2.6,2.8,3}, xlabel={TCR}]
\addplot[bandwide] coordinates {(1,0.61) (3,0.61)};
\addplot[bandnarrow] coordinates {(1,0.61) (3,0.61)};
\addplot[black, line width=1.8pt, line cap=butt] coordinates {(1,0.61) (3,0.61)};
\addlegendentry{HadCRUT v. 5.0}
\addplot[bandwide] coordinates {(1,0.43) (3,0.43)};
\addplot[bandnarrow] coordinates {(1,0.43) (3,0.43)};
\addplot[uahline, line width=1.6pt, line cap=butt] coordinates {(1,0.43) (3,0.43)};
\addlegendentry{UAH-MSU lt v.6.1}
\addplot[mkA] coordinates {(1.33,0.79) (1.33,0.59) (1.41,0.66) (1.54,0.79) (1.54,0.53) (1.55,0.66) (1.63,0.73) (1.64,0.79) (1.66,0.57) (1.72,0.68) (1.80,0.50) (1.84,0.60) (1.94,0.90) (1.98,1.03) (2.06,0.83) (2.09,0.74) (2.10,0.88) (2.22,0.79) (2.30,0.89) (2.39,0.71) (2.48,0.82) (2.55,1.32) (2.58,0.86) (2.72,1.03) (2.74,1.19) (2.79,1.20)};
\addlegendentry{Hist+SSP1-2.6}
\addplot[mkB] coordinates {(1.33,0.83) (1.33,0.62) (1.41,0.64) (1.48,0.66) (1.54,0.60) (1.63,0.76) (1.66,0.60) (1.71,0.51) (1.80,0.61) (1.84,0.59) (1.94,0.78) (1.98,0.95) (2.00,0.80) (2.06,0.84) (2.09,0.63) (2.10,0.87) (2.22,0.80) (2.30,0.79) (2.34,1.03) (2.39,0.82) (2.48,0.78) (2.58,0.90) (2.72,1.00) (2.74,1.21) (2.79,1.18)};
\addlegendentry{Hist+SSP2-4.5}
\addplot[mkC] coordinates {(1.33,0.70) (1.33,0.56) (1.41,0.70) (1.48,0.78) (1.54,0.61) (1.55,0.50) (1.64,0.67) (1.66,0.63) (1.72,0.69) (1.73,0.42) (1.80,0.75) (1.84,0.59) (1.86,0.65) (1.92,0.47) (1.94,0.88) (1.94,0.68) (1.98,0.89) (2.04,1.00) (2.06,0.80) (2.06,0.78) (2.14,0.68) (2.34,1.08) (2.48,0.76) (2.62,0.88) (2.74,1.26) (2.79,1.14)};
\addlegendentry{Hist+SSP3-7.0}
\addplot[mkD] coordinates {(1.33,0.76) (1.33,0.63) (1.41,0.66) (1.48,0.74) (1.54,0.64) (1.55,0.58) (1.55,0.55) (1.63,0.72) (1.64,0.86) (1.66,0.60) (1.71,0.54) (1.72,0.72) (1.73,0.45) (1.80,0.47) (1.84,0.57) (1.86,0.69) (1.92,0.46) (1.94,0.86) (1.94,0.79) (1.94,0.72) (1.98,0.97) (2.00,0.86) (2.04,1.03) (2.06,0.84) (2.06,0.83) (2.09,0.71) (2.10,0.92) (2.14,0.72) (2.22,0.81) (2.30,0.92) (2.32,0.81) (2.34,1.11) (2.39,0.76) (2.48,0.77) (2.55,1.14) (2.58,0.91) (2.62,0.92) (2.72,1.08) (2.74,1.29) (2.74,1.22) (2.79,1.17)};
\addlegendentry{Hist+SSP5-8.5}
\end{axis}

\node[font=\bfseries\fontsize{14}{14}\selectfont] at (498pt,-20pt) {D};
\node[font=\bfseries\fontsize{14}{14}\selectfont] at (498pt,-400pt) {E};
\end{tikzpicture}
\end{document}
